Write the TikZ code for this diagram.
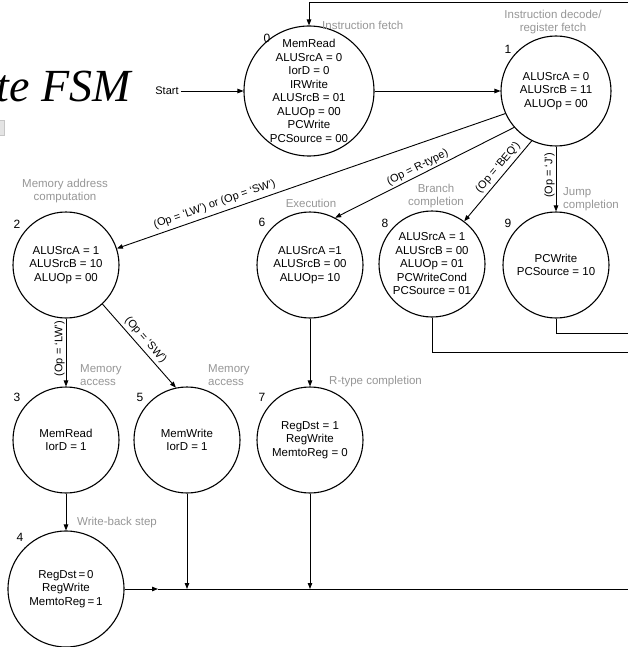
\documentclass[tikz,border=0pt]{standalone}
\usepackage{fontspec}
\setmainfont{Liberation Sans}
\newfontfamily\serifit{Liberation Serif}
\usetikzlibrary{arrows.meta}
\definecolor{lblgray}{RGB}{150,150,150}
\definecolor{boxgray}{RGB}{228,228,228}
\begin{document}
\begin{tikzpicture}[x=1pt,y=-1pt,
  state/.style={circle,draw,line width=1.1pt,inner sep=0pt,minimum size=106pt,
    align=center,font=\fontsize{11.5}{13.5}\selectfont},
  num/.style={font=\fontsize{12}{14}\selectfont,inner sep=0pt},
  phase/.style={text=lblgray,font=\fontsize{11.5}{13.5}\selectfont,inner sep=0pt},
  cond/.style={font=\fontsize{11}{13}\selectfont,inner sep=1pt},
  link/.style={line width=0.9pt},
  arr/.style={link,-{Triangle[length=6pt,width=4.5pt]}}]
\useasboundingbox (0,0) rectangle (628,647);

% title fragment and small tab at the left edge
\node[font=\serifit\itshape\fontsize{46}{50}\selectfont,anchor=base east,inner sep=0pt] (title) at (131,102) {te FSM};
\draw[fill=boxgray,draw=gray!45] (-5,120) rectangle (4,135);

% states
\node[state,minimum size=130pt] (s0) at (309,91)
  {MemRead\\ALUSrcA = 0\\IorD = 0\\IRWrite\\ALUSrcB = 01\\ALUOp = 00\\PCWrite\\PCSource = 00};
\node[state,minimum size=110pt] (s1) at (556,91) {ALUSrcA = 0\\ALUSrcB = 11\\ALUOp = 00};
\node[state] (s2) at (66,265) {ALUSrcA = 1\\ALUSrcB = 10\\ALUOp = 00};
\node[state] (s6) at (310,265) {ALUSrcA =1\\ALUSrcB = 00\\ALUOp= 10};
\node[state] (s8) at (432,264) {ALUSrcA = 1\\ALUSrcB = 00\\ALUOp = 01\\PCWriteCond\\PCSource = 01};
\node[state] (s9) at (556,265) {PCWrite\\PCSource = 10};
\node[state] (s3) at (66,440) {MemRead\\IorD = 1};
\node[state] (s5) at (187,440) {MemWrite\\IorD = 1};
\node[state] (s7) at (310,440) {RegDst = 1\\RegWrite\\MemtoReg = 0};
\node[state,minimum size=116pt] (s4) at (66,589) {RegDst\,=\,0\\RegWrite\\MemtoReg\,=\,1};

% state numbers
\node[num] (n0) at (267,38) {0};
\node[num] (n1) at (508,49) {1};
\node[num] (n2) at (17,224) {2};
\node[num] (n6) at (262,222) {6};
\node[num] (n8) at (385,223) {8};
\node[num] (n9) at (508,223) {9};
\node[num] (n3) at (17,397) {3};
\node[num] (n5) at (140,397) {5};
\node[num] (n7) at (262,397) {7};
\node[num] (n4) at (20,537) {4};

% phase names
\node[phase,anchor=west] (pf) at (322,25) {Instruction fetch};
\node[phase,align=center] (pd) at (553,22) {Instruction decode/\\register fetch};
\node[phase,align=center] (pm) at (65,191) {Memory address\\computation};
\node[phase] (pe) at (311,203) {Execution};
\node[phase,align=center] (pb) at (436,196) {Branch\\completion};
\node[phase,anchor=west,align=left] (pj) at (563,199) {Jump\\completion};
\node[phase,anchor=west,align=left] (pma) at (80,375) {Memory\\access};
\node[phase,anchor=west,align=left] (pmb) at (208,375) {Memory\\access};
\node[phase,anchor=west] (pr) at (329,382) {R-type completion};
\node[phase,anchor=west] (pw) at (77,523) {Write-back step};

% start
\node[font=\fontsize{11}{13}\selectfont,inner sep=2pt] (start) at (167,91) {Start};
\draw[arr] (start) -- (s0);

% transitions
\draw[arr] (s0) -- (s1);
\draw[arr] (s1.204) -- node[cond,sloped,above=3pt,pos=0.74] {(Op = `LW') or (Op = `SW')} (s2.18);
\draw[arr] (s1.221) -- node[cond,sloped,above=1pt,pos=0.52] {(Op = R-type)} (s6.62);
\draw[arr] (s1.244) -- node[cond,sloped,above=2pt,pos=0.4] {(Op = `BEQ')} (s8.53);
\draw[arr] (s1.south) -- node[cond,rotate=90,anchor=south,pos=0.4,xshift=-3pt] {(Op = `J')} (s9.north);
\draw[arr] (s2.south) -- node[cond,rotate=90,anchor=south,pos=0.4,xshift=-3pt] {(Op = `LW')} (s3.north);
\draw[arr] (s2.313) -- node[cond,sloped,above=2pt,pos=0.5] {(Op = `SW')} (s5.102);
\draw[arr] (s6.south) -- (s7.north);
\draw[arr] (s3.south) -- (s4.north);

% return paths to state 0
\coordinate (topR) at (628,2);
\coordinate (busR) at (628,589);
\coordinate (busA) at (158,589);
\coordinate (r9) at (628,333);
\coordinate (r8) at (628,352);
\draw[arr] (topR) -- (s0.north |- topR) -- (s0.north);
\draw[arr] (s4.east) -- (busA);
\draw[link] (busA) -- (busR);
\draw[arr] (s5.south) -- (s5.south |- busR);
\draw[arr] (s7.south) -- (s7.south |- busR);
\draw[link] (s9.south) |- (r9);
\draw[link] (s8.south) |- (r8);
\end{tikzpicture}
\end{document}
